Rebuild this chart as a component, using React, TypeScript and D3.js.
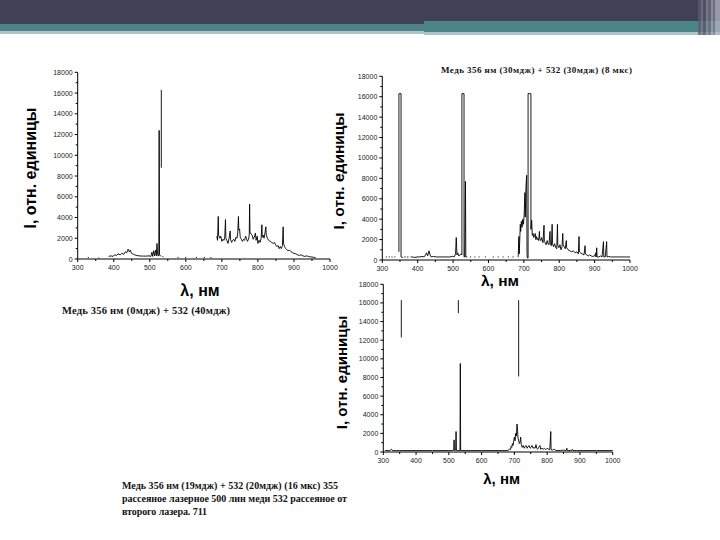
import React from "react";
import * as d3 from "d3";

type P = [number, number] | null;

const yTicks = [0, 2000, 4000, 6000, 8000, 10000, 12000, 14000, 16000, 18000];
const xTicks = [300, 400, 500, 600, 700, 800, 900, 1000];
const yMinor = [1000, 3000, 5000, 7000, 9000, 11000, 13000, 15000, 17000];
const xMinor = [350, 450, 550, 650, 750, 850, 950];

const yTitle = "I, отн. единицы";
const xTitle = "λ, нм";

const caption1 = "Медь 356 нм (0мдж) + 532 (40мдж)";
const caption2 = "Медь 356 нм (30мдж) + 532 (30мдж) (8 мкс)";
const caption3 = [
  "Медь 356 нм (19мдж) + 532 (20мдж) (16 мкс) 355",
  "рассеяное лазерное 500 лин меди 532 рассеяное от",
  "второго лазера. 711",
];
const caption3Widths = [216, 225, 85];

const spectrum1: P[] = [
  [328, 150], [331, 150], null, [357, 100], [360, 100], null,
  [386, 250], [392, 300], [398, 250], [402, 400], [408, 350], [412, 500], [418, 400], [422, 550],
  [428, 450], [432, 700], [436, 600], [440, 950], [443, 700], [446, 850], [449, 550], [455, 450],
  [462, 350], [470, 300], [480, 280], [490, 280], [498, 300], [503, 250], [506, 650], [508, 250],
  [511, 800], [513, 300], [516, 850], [518, 300], [520, 1500], [522, 350], [525, 300], [526, 12400],
  [527, 400], [529, 300], [531, 300], null, [532, 8800], [532, 16300], null, [535, 250], [538, 200], null,
  [577, 150], [580, 150], null, [598, 150], [601, 150], null, [628, 150], [631, 150], null,
  [650, 150], [653, 150], null, [668, 150], [671, 150], null,
  [686, 2200], [688, 1800], [690, 4100], [691, 2300], [694, 2000], [697, 2200], [700, 1700],
  [703, 1900], [706, 1800], [708, 2100], [710, 3800], [711, 2000], [714, 1800], [717, 1500],
  [720, 2000], [723, 2700], [724, 1900], [727, 1600], [730, 1800], [733, 1900], [736, 1700],
  [739, 2100], [742, 2000], [744, 2500], [746, 4100], [747, 2800], [749, 2900], [751, 2100],
  [754, 1900], [757, 1700], [760, 1900], [763, 1800], [766, 2200], [768, 2000], [771, 1700],
  [774, 1900], [776, 2300], [777, 5300], [778, 2600], [781, 2400], [784, 2300], [787, 1900],
  [790, 2100], [793, 2500], [795, 1800], [798, 2200], [800, 1500], [803, 1800], [806, 1600],
  [809, 2000], [811, 3300], [812, 2100], [815, 2300], [817, 2000], [820, 2600], [822, 3100],
  [823, 2400], [826, 2000], [830, 1800], [834, 1700], [838, 1600], [842, 1500], [846, 1600],
  [850, 1300], [853, 1200], [856, 1300], [859, 1000], [862, 1200], [865, 1000], [868, 1300],
  [870, 3100], [871, 1500], [874, 1200], [877, 1000], [880, 900], [884, 800], [888, 850],
  [892, 700], [896, 600], [900, 550], [905, 500], [910, 400], [915, 350], [920, 400], [925, 300],
  [930, 250], [935, 300], [940, 250], [945, 200], [950, 200], [955, 150], [960, 150],
];

const spectrum2: P[] = [
  [310, 300], [313, 300], null, [318, 300], [321, 300], null, [326, 300], [329, 300], null,
  [334, 300], [337, 300], null,
  [347, 800], [347, 16300], [353, 16300], [353, 300], [358, 250], null,
  [362, 300], [366, 300], null, [370, 300], [374, 300], null,
  [380, 300], [385, 300], [392, 250], [398, 300], [405, 300], [412, 350], [418, 300], [422, 500],
  [425, 700], [428, 400], [432, 900], [435, 500], [438, 300], [445, 350], [452, 300], [460, 300],
  [470, 300], [480, 300], [490, 300], [498, 350], [503, 300], [507, 600], [509, 2200], [511, 500],
  [513, 700], [516, 400], [520, 500], [523, 600], [525, 500], [525, 16300], [531, 16300],
  [531, 300], [533, 300], [535, 7700], [536, 300], [540, 300], null,
  [548, 300], [551, 300], null, [560, 300], [563, 300], null, [572, 300], [575, 300], null,
  [590, 300], [593, 300], null, [612, 300], [615, 300], null, [626, 300], [629, 300], null,
  [640, 300], [643, 300], null, [655, 300], [658, 300], null, [668, 300], [671, 300], null,
  [684, 300], [686, 2300], [687, 600], [689, 2500], [690, 3500], [691, 2800], [693, 3800],
  [695, 3200], [697, 4000], [699, 3500], [701, 4500], [703, 6600], [704, 4200], [706, 7200],
  [708, 8300], [709, 600], [710, 200], [712, 200], [712, 16300], [720, 16300], [720, 3000],
  [722, 3900], [724, 2400], [726, 2600], [728, 2200], [730, 2300], [732, 2600], [734, 2000],
  [736, 2300], [738, 2000], [740, 2100], [742, 1900], [744, 2800], [745, 2100], [748, 1900],
  [750, 2200], [752, 2000], [754, 1700], [757, 3400], [758, 1800], [760, 1700], [763, 1500],
  [766, 1900], [768, 1600], [771, 1500], [774, 2800], [775, 1500], [778, 1400], [780, 3500],
  [781, 1600], [784, 1300], [787, 1600], [790, 1200], [793, 1100], [795, 3500], [796, 1400],
  [799, 1200], [802, 1500], [805, 1000], [808, 1300], [810, 2600], [811, 1500], [814, 1300],
  [817, 1100], [820, 1900], [821, 1200], [825, 1000], [830, 900], [835, 800], [840, 900],
  [845, 700], [850, 800], [854, 600], [856, 2300], [857, 800], [860, 700], [865, 600],
  [870, 500], [873, 1400], [874, 600], [878, 500], [882, 400], [886, 500], [890, 400],
  [895, 350], [900, 400], [903, 700], [904, 300], [906, 1200], [907, 300], [912, 300],
  [917, 400], [921, 300], [925, 1800], [926, 300], [930, 300], [934, 1800], [935, 300],
  [940, 350], [945, 300], [950, 300], [960, 300], [970, 300], [980, 300], [990, 300], [1000, 300],
];

const spectrum3: P[] = [
  [305, 150], [320, 150], [325, 300], [328, 150], [340, 150], [350, 150], [360, 150],
  [400, 150], [450, 150], [500, 150], [510, 150], [515, 200], [516, 1300], [517, 150],
  [521, 200], [522, 2200], [523, 150], [527, 150], [534, 150], [535, 9500], [536, 150],
  [540, 150], [600, 150], [650, 150], [680, 150], [685, 300], [688, 250], [690, 600],
  [692, 500], [694, 900], [696, 700], [698, 1200], [700, 1600], [702, 1200], [704, 2000],
  [706, 1700], [708, 3000], [710, 2200], [711, 1500], [713, 1200], [715, 900], [717, 1000],
  [719, 1600], [721, 800], [724, 500], [727, 700], [730, 400], [733, 600], [736, 700],
  [739, 400], [742, 600], [745, 700], [748, 400], [751, 500], [754, 700], [757, 400],
  [760, 500], [763, 400], [766, 800], [768, 400], [771, 300], [774, 500], [778, 700],
  [780, 300], [784, 400], [788, 300], [792, 400], [796, 250], [800, 400], [804, 300],
  [808, 250], [811, 2200], [812, 250], [816, 200], [820, 300], [825, 200], [830, 150],
  [840, 150], [850, 200], [858, 150], [860, 400], [862, 150], [870, 150], [875, 150],
  [877, 300], [879, 150], [890, 150], [900, 150], [950, 150], [1000, 150], null,
  [355, 12300], [355, 16300], null, [529, 14900], [529, 16300], null, [713, 8100], [713, 16300],
];

interface ChartProps {
  data: P[];
  left: number;
  right: number;
  top: number;
  bottom: number;
  yTitleX: number;
  yTitleY: number;
  xTitleX: number;
  xTitleY: number;
  titleSize: number;
}

function Chart(p: ChartProps) {
  const x = d3.scaleLinear().domain([300, 1000]).range([p.left, p.right]);
  const y = d3.scaleLinear().domain([0, 18000]).range([p.bottom, p.top]);
  const line = d3
    .line<P>()
    .defined((d) => d !== null)
    .x((d) => x((d as [number, number])[0]))
    .y((d) => y((d as [number, number])[1]));
  const tf = "Liberation Sans, Arial, sans-serif";
  return (
    <g>
      <path d={line(p.data) || ""} fill="none" stroke="#000" strokeWidth={0.9} />
      <line x1={p.left} x2={p.left} y1={p.top} y2={p.bottom} stroke="#000" strokeWidth={1} />
      <line x1={p.left} x2={p.right} y1={p.bottom} y2={p.bottom} stroke="#000" strokeWidth={1} />
      {yTicks.map((t) => (
        <g key={"y" + t}>
          <line x1={p.left - 3} x2={p.left} y1={y(t)} y2={y(t)} stroke="#000" />
          <text x={p.left - 5} y={y(t) + 2.5} fontSize={7} fontFamily={tf} textAnchor="end" fill="#222">
            {t}
          </text>
        </g>
      ))}
      {yMinor.map((t) => (
        <line key={"ym" + t} x1={p.left - 2} x2={p.left} y1={y(t)} y2={y(t)} stroke="#000" />
      ))}
      {xTicks.map((t) => (
        <g key={"x" + t}>
          <line x1={x(t)} x2={x(t)} y1={p.bottom} y2={p.bottom + 3} stroke="#000" />
          <text x={x(t)} y={p.bottom + 10.5} fontSize={7} fontFamily={tf} textAnchor="middle" fill="#222">
            {t}
          </text>
        </g>
      ))}
      {xMinor.map((t) => (
        <line key={"xm" + t} x1={x(t)} x2={x(t)} y1={p.bottom} y2={p.bottom + 2} stroke="#000" />
      ))}
      <text
        transform={`translate(${p.yTitleX},${p.yTitleY}) rotate(-90)`}
        textAnchor="middle"
        dominantBaseline="central"
        fontSize={p.titleSize}
        fontWeight="bold"
        fontFamily={tf}
      >
        {yTitle}
      </text>
      <text
        x={p.xTitleX}
        y={p.xTitleY}
        textAnchor="middle"
        dominantBaseline="central"
        fontSize={p.titleSize}
        fontWeight="bold"
        fontFamily={tf}
      >
        {xTitle}
      </text>
    </g>
  );
}

export default function App() {
  const serif = "Liberation Serif, Times New Roman, serif";
  const stripes = [
    { x: 698, w: 3, c: "#5c5c70" },
    { x: 701, w: 2, c: "#7a7a8c" },
    { x: 703, w: 3, c: "#545468" },
    { x: 706, w: 2, c: "#8c8c9e" },
    { x: 708, w: 3, c: "#6e6e82" },
    { x: 711, w: 2, c: "#a4a4b4" },
    { x: 713, w: 2, c: "#7c7c90" },
    { x: 715, w: 5, c: "#b4b4c4" },
  ];
  return (
    <svg
      width={720}
      height={540}
      style={{ position: "absolute", left: 0, top: 0, background: "#fff" }}
    >
      <rect x={0} y={0} width={720} height={540} fill="#fff" />
      <rect x={0} y={0} width={720} height={24} fill="#414155" />
      <rect x={424} y={20} width={296} height={4} fill="#414155" />
      <rect x={0} y={24} width={424} height={7} fill="#4b8585" />
      <rect x={0} y={31} width={424} height={3} fill="#a9c6c8" />
      <rect x={424} y={21} width={296} height={11} fill="#4b8585" />
      <rect x={424} y={32} width={296} height={3} fill="#a9c6c8" />
      {stripes.map((s, i) => (
        <rect key={i} x={s.x} y={0} width={s.w} height={35} fill={s.c} opacity={0.75} />
      ))}

      <Chart
        data={spectrum1}
        left={77.7}
        right={330}
        top={72.3}
        bottom={259}
        yTitleX={30}
        yTitleY={168}
        xTitleX={200}
        xTitleY={290}
        titleSize={16}
      />
      <Chart
        data={spectrum2}
        left={382.3}
        right={630}
        top={76.3}
        bottom={260}
        yTitleX={338}
        yTitleY={171}
        xTitleX={500}
        xTitleY={280}
        titleSize={15.5}
      />
      <Chart
        data={spectrum3}
        left={383.3}
        right={612.7}
        top={284.3}
        bottom={452}
        yTitleX={341.7}
        yTitleY={372.5}
        xTitleX={501.7}
        xTitleY={478}
        titleSize={15}
      />

      <text x={441} y={73} fontSize={9} fontWeight="bold" fontFamily={serif} fill="#111" textLength={191}>
        {caption2}
      </text>
      <text x={62} y={314} fontSize={10.5} fontWeight="bold" fontFamily={serif} fill="#111" textLength={168}>
        {caption1}
      </text>
      {caption3.map((s, i) => (
        <text
          key={i}
          x={122}
          y={488.5 + i * 13}
          fontSize={10}
          fontWeight="bold"
          fontFamily={serif}
          fill="#111"
          textLength={caption3Widths[i]}
        >
          {s}
        </text>
      ))}
    </svg>
  );
}
